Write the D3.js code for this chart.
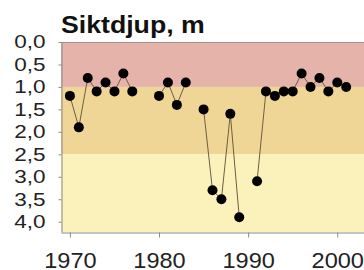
<!DOCTYPE html>
<html>
<head>
<meta charset="utf-8">
<script src="https://cdn.jsdelivr.net/npm/d3@7"></script>
<style>
  body { margin: 0; background: #fff; }
  svg { display: block; font-family: "Liberation Sans", Arial, sans-serif; }
</style>
</head>
<body>
<script>
var title = "Siktdjup, m";

// yearly secchi depth (m), null = no measurement
var years = [1970, 1971, 1972, 1973, 1974, 1975, 1976, 1977, 1978, 1979,
             1980, 1981, 1982, 1983, 1984, 1985, 1986, 1987, 1988, 1989,
             1990, 1991, 1992, 1993, 1994, 1995, 1996, 1997, 1998, 1999,
             2000, 2001];
var depths = [1.2, 1.9, 0.8, 1.1, 0.9, 1.1, 0.7, 1.1, null, null,
              1.2, 0.9, 1.4, 0.9, null, 1.5, 3.3, 3.5, 1.6, 3.9,
              null, 3.1, 1.1, 1.2, 1.1, 1.1, 0.7, 1.0, 0.8, 1.1,
              0.9, 1.0];

// classification bands (m)
var bandFrom = [0, 1.0, 2.5];
var bandTo = [1.0, 2.5, 4.23];

var yTicks = [0, 0.5, 1.0, 1.5, 2.0, 2.5, 3.0, 3.5, 4.0];
var xTicks = [1970, 1980, 1990, 2000];

// note: "top" is taken by window.top, so plot edges get their own names
var W = 364, H = 270;
var plotLeft = 61, plotTop = 42, plotBottom = 232;

var bandColors = ["#e5b3aa", "#efd596", "#fbf2bb"];

var svg = d3.select("body").append("svg")
  .attr("width", W)
  .attr("height", H);

var x = d3.scaleLinear().domain([1969, 2003]).range([plotLeft, W]);
var y = d3.scaleLinear().domain([0, 4.23]).range([plotTop, plotBottom]);

//
// background bands
//
svg.selectAll(".band")
  .data(bandFrom)
  .enter().append("rect")
  .attr("class", "band")
  .attr("x", plotLeft)
  .attr("width", W - plotLeft)
  .attr("y", function (d) { return y(d); })
  .attr("height", function (d, i) { return y(bandTo[i]) - y(d); })
  .style("fill", function (d, i) { return bandColors[i]; });

// top frame line
svg.append("line")
  .attr("x1", plotLeft).attr("x2", W)
  .attr("y1", plotTop + 0.5).attr("y2", plotTop + 0.5)
  .style("stroke", "#a09090");

//
// axes
//
var comma = function (d) { return d3.format(".1f")(d).replace(".", ","); };

var yAxis = svg.append("g")
  .attr("transform", "translate(" + (plotLeft + 0.5) + ",0)")
  .call(d3.axisLeft(y).tickValues(yTicks).tickFormat(comma).tickSize(3).tickSizeOuter(0));

yAxis.selectAll("text")
  .attr("x", -16 / 1.25)
  .attr("dy", "0.33em")
  .attr("transform", "scale(1.25,1)")
  .style("font-size", "18px")
  .style("fill", "#222");

var xAxis = svg.append("g")
  .attr("transform", "translate(0," + (plotBottom + 0.5) + ")")
  .call(d3.axisBottom(x).tickValues(xTicks).tickFormat(d3.format("d")).tickSize(5).tickSizeOuter(0));

xAxis.selectAll("text")
  .attr("y", 35.5)
  .attr("dy", 0)
  .attr("transform", "scale(1.07,1)")
  .style("font-size", "22px")
  .style("fill", "#222");

svg.selectAll(".domain, .tick line").style("stroke", "#8a8a8a");

//
// data line + dots
//
var points = years.map(function (yr, i) { return { year: yr, v: depths[i] }; });

var line = d3.line()
  .defined(function (d) { return d.v != null; })
  .x(function (d) { return x(d.year); })
  .y(function (d) { return y(d.v); });

svg.append("path")
  .datum(points)
  .attr("d", line)
  .style("fill", "none")
  .style("stroke", "#6e5e40")
  .style("stroke-width", 1);

svg.selectAll(".dot")
  .data(points.filter(function (d) { return d.v != null; }))
  .enter().append("circle")
  .attr("class", "dot")
  .attr("cx", function (d) { return x(d.year); })
  .attr("cy", function (d) { return y(d.v); })
  .attr("r", 5)
  .style("fill", "#000");

// title
svg.append("text")
  .attr("transform", "translate(" + plotLeft + ",33) scale(1.16,1)")
  .style("font-size", "23px")
  .style("font-weight", "bold")
  .style("fill", "#111")
  .text(title);
</script>
</body>
</html>
